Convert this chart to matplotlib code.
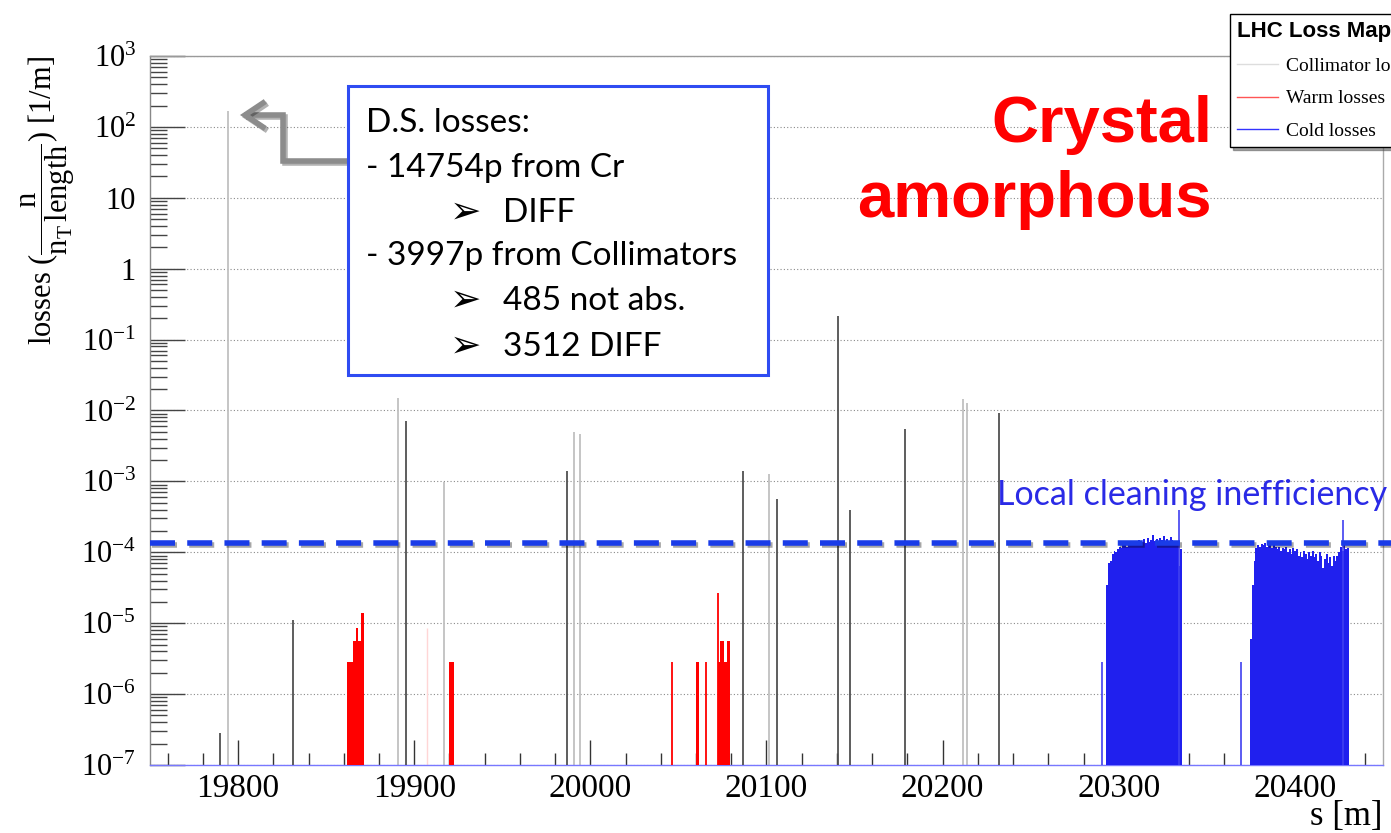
import numpy as np
import matplotlib.pyplot as plt
import matplotlib.patheffects as pe
from matplotlib.patches import Rectangle
from matplotlib.lines import Line2D
from matplotlib.ticker import FixedLocator, MultipleLocator, LogLocator, NullFormatter

plt.rcParams['mathtext.fontset'] = 'custom'
plt.rcParams['mathtext.rm'] = 'Liberation Serif'
plt.rcParams['mathtext.it'] = 'Liberation Serif:italic'
plt.rcParams['mathtext.bf'] = 'Liberation Serif:bold'

# ---------------------------------------------------------------
# datos
# ---------------------------------------------------------------
# perdidas en colimadores: lineas oscuras
coll_dark_s = [19790.0, 19831.2, 19895.4, 19986.8, 20086.7, 20106.0, 20140.7, 20147.5, 20178.7, 20232.1]
coll_dark_v = [2.8e-7, 1.1e-5, 7.2e-3, 1.4e-3, 1.4e-3, 5.6e-4, 0.215, 3.9e-4, 5.5e-3, 9.2e-3]
# perdidas en colimadores: lineas claras
coll_light_s = [19794.3, 19890.8, 19917.0, 19990.8, 19994.2, 20101.5, 20211.7, 20214.0]
coll_light_v = [170.0, 0.015, 9.8e-4, 5.0e-3, 4.6e-3, 1.27e-3, 0.0145, 0.0128]

# perdidas calientes (warm)
warm1_edges = [19862.0, 19863.2, 19864.3, 19865.4, 19866.7, 19867.9, 19868.9, 19869.8, 19870.8, 19871.7]
warm1_vals = [2.8e-6, 2.8e-6, 2.8e-6, 5.6e-6, 8.6e-6, 5.6e-6, 5.6e-6, 1.4e-5, 1.4e-5]
warm2_edges = [19919.9, 19921.2, 19922.5]
warm2_vals = [2.8e-6, 2.8e-6]
warm3_edges = [20060.0, 20061.4]
warm3_vals = [2.8e-6]
warm4_edges = [20072.4, 20073.7, 20075.6, 20077.8, 20079.0]
warm4_vals = [2.8e-6, 5.6e-6, 2.8e-6, 5.6e-6]
warm_line_s = [20046.4, 20065.7, 20072.6]
warm_line_v = [2.8e-6, 2.8e-6, 2.7e-5]
warm_faint_s = [19907.3]
warm_faint_v = [8.6e-6]

# perdidas frias (cold), bins de 1 m
cold1_start = 20293.0
cold1_vals = [3.5e-5, 7.0e-5, 7.5e-5, 9.5e-5, 1.05e-4, 1.0e-4, 1.1e-4, 1.2e-4, 1.15e-4, 1.25e-4,
              1.3e-4, 1.2e-4, 1.35e-4, 1.25e-4, 1.4e-4, 1.3e-4, 1.45e-4, 1.35e-4, 1.5e-4, 1.3e-4,
              1.4e-4, 1.55e-4, 1.35e-4, 1.6e-4, 1.4e-4, 1.5e-4, 1.75e-4, 1.45e-4, 1.55e-4, 1.4e-4,
              1.6e-4, 1.5e-4, 1.7e-4, 1.45e-4, 1.55e-4, 1.4e-4, 1.65e-4, 1.5e-4, 1.35e-4, 1.45e-4,
              1.3e-4, 6.5e-5, 1.1e-4]
cold2_start = 20374.6
cold2_vals = [6e-6, 3.5e-5, 7.5e-5, 1.15e-4, 1.25e-4, 1.2e-4, 1.3e-4, 1.25e-4, 1.35e-4, 1.2e-4,
              1.3e-4, 1.25e-4, 1.15e-4, 1.3e-4, 1.2e-4, 1.1e-4, 1.2e-4, 1.05e-4, 1.15e-4, 1.1e-4,
              1.2e-4, 1.0e-4, 1.1e-4, 9.5e-5, 1.15e-4, 1.05e-4, 1.1e-4, 9.0e-5, 1.0e-4, 8.5e-5,
              1.05e-4, 9.5e-5, 8.0e-5, 1.0e-4, 9.0e-5, 1.05e-4, 8.5e-5, 9.5e-5, 7.5e-5, 1.0e-4,
              9.0e-5, 6.0e-5, 8.0e-5, 9.5e-5, 7.0e-5, 8.5e-5, 6.5e-5, 9.0e-5, 7.5e-5, 9.0e-5,
              1.0e-4, 1.2e-4, 1.05e-4, 1.3e-4, 1.1e-4, 1.15e-4]
cold_line_s = [20290.6, 20334.3, 20369.5, 20427.5]
cold_line_v = [2.8e-6, 3.9e-4, 2.8e-6, 2.85e-4]

# ineficiencia local de limpieza
local_ineff = 1.35e-4

x_major = [19800, 19900, 20000, 20100, 20200, 20300, 20400]
y_ticks = [1e-7, 1e-6, 1e-5, 1e-4, 1e-3, 1e-2, 1e-1, 1, 10, 1e2, 1e3]
y_labels = [r'$10^{-7}$', r'$10^{-6}$', r'$10^{-5}$', r'$10^{-4}$', r'$10^{-3}$', r'$10^{-2}$',
            r'$10^{-1}$', '1', '10', r'$10^{2}$', r'$10^{3}$']

box_lines = ['D.S. losses:', '- 14754p from Cr', 'DIFF', '- 3997p from Collimators',
             '485 not abs.', '3512 DIFF']

# ---------------------------------------------------------------
# grafico
# ---------------------------------------------------------------
W, H = 1391, 833
fig = plt.figure(figsize=(W / 100, H / 100), dpi=100)
ax = fig.add_axes([150 / W, 1 - 765 / H, 1233 / W, 709 / H])
ax.set_yscale('log')
ax.set_xlim(19750, 20450)
ax.set_ylim(1e-7, 1e3)
base = 1e-7

# coordenadas de pixel -> fraccion de ejes (solo para anotaciones)
def px(x, y):
    return (x - 150) / 1233, (765 - y) / 709

ax.yaxis.grid(True, which='major', linestyle=(0, (1, 2)), color='#8a8a8a', lw=0.8)
ax.set_axisbelow(True)

ax.vlines(coll_light_s, base, coll_light_v, color='#c0c0c0', lw=1.3, zorder=2)
ax.vlines(coll_dark_s, base, coll_dark_v, color='#505050', lw=1.3, zorder=3)

blue = '#2020ee'
ax.stairs(cold1_vals, cold1_start + np.arange(len(cold1_vals) + 1), baseline=base, fill=True, color=blue, zorder=3)
ax.stairs(cold2_vals, cold2_start + np.arange(len(cold2_vals) + 1), baseline=base, fill=True, color=blue, zorder=3)
ax.vlines(cold_line_s, base, cold_line_v, color='#4040f0', lw=1.2, zorder=3)

red = '#ff0000'
ax.vlines(warm_faint_s, base, warm_faint_v, color='#ffd6d6', lw=1.0, zorder=2)
for ed, vv in [(warm1_edges, warm1_vals), (warm2_edges, warm2_vals),
               (warm3_edges, warm3_vals), (warm4_edges, warm4_vals)]:
    ax.stairs(vv, ed, baseline=base, fill=True, color=red, zorder=4)
ax.vlines(warm_line_s, base, warm_line_v, color=red, lw=1.3, zorder=4)

# linea de ineficiencia local
ax.plot([0, 1.01], [local_ineff, local_ineff], transform=ax.get_yaxis_transform(),
        color='#1a3ce8', lw=4, dashes=(4.5, 2.2), clip_on=False, zorder=6,
        path_effects=[pe.SimpleLineShadow(offset=(1.5, -1.5), alpha=0.35), pe.Normal()])
ax.text(*px(997, 505), 'Local cleaning inefficiency', transform=ax.transAxes,
        color='#2a2ae6', fontsize=24.5, family='Lato', va='baseline', ha='left', zorder=7)

# ejes
ax.set_xticks(x_major)
ax.set_xticklabels([str(v) for v in x_major])
ax.xaxis.set_minor_locator(MultipleLocator(20))
ax.yaxis.set_major_locator(FixedLocator(y_ticks))
ax.set_yticklabels(y_labels)
ax.yaxis.set_minor_locator(LogLocator(base=10, subs=np.arange(2, 10), numticks=20))
ax.yaxis.set_minor_formatter(NullFormatter())

ax.tick_params(axis='x', which='major', direction='in', length=18, width=1, color='#333333',
               labelsize=24, pad=6)
ax.tick_params(axis='x', which='minor', direction='in', length=8.5, width=1, color='#333333')
ax.tick_params(axis='y', which='major', direction='in', length=25, width=1, color='#444444',
               labelsize=22, pad=10)
ax.tick_params(axis='y', which='minor', direction='in', length=12, width=1, color='#444444')
for lab in ax.get_xticklabels() + ax.get_yticklabels():
    lab.set_family('Liberation Serif')

ax.spines['top'].set_color('#9a9a9a')
ax.spines['right'].set_color('#aaaaaa')
ax.spines['left'].set_color('#888888')
ax.spines['bottom'].set_color('#7878ff')
for sp in ax.spines.values():
    sp.set_linewidth(1)

ax.set_ylabel(r'losses $(\dfrac{\mathrm{n}}{\mathrm{n}_{\mathrm{T}}\,\mathrm{length}})$ [1/m]',
              loc='top', fontsize=22, family='Liberation Serif', labelpad=3)
ax.set_xlabel('s [m]', loc='right', fontsize=25, family='Liberation Serif', labelpad=-3)

# caja de texto
x0, y0 = px(348, 375)
x1, y1 = px(768, 86)
ax.add_patch(Rectangle((x0, y0), x1 - x0, y1 - y0, transform=ax.transAxes, facecolor='white',
                       edgecolor='#2f4cf2', lw=2.2, clip_on=False, zorder=8))
baselines = [132, 177, 222, 265, 310, 356]
indent = [False, False, True, False, True, True]
for txt, yb, ind in zip(box_lines, baselines, indent):
    if ind:
        ax.text(*px(450, yb + 1), '\u27a2', transform=ax.transAxes, fontsize=27,
                family='DejaVu Sans', va='baseline', zorder=9)
        ax.text(*px(503, yb), txt, transform=ax.transAxes, fontsize=24,
                family='Lato', va='baseline', zorder=9)
    else:
        ax.text(*px(366, yb), txt, transform=ax.transAxes, fontsize=24,
                family='Lato', va='baseline', zorder=9)

# flecha gris
arrow_fx = [px(348, 161), px(283, 161), px(283, 115), px(247, 115)]
head_fx = [px(263, 103), px(245, 115), px(263, 127)]
shadow = [pe.SimpleLineShadow(offset=(1.5, -1.5), alpha=0.3), pe.Normal()]
ax.plot([p[0] for p in arrow_fx], [p[1] for p in arrow_fx], transform=ax.transAxes,
        color='#8c8c8c', lw=4, solid_joinstyle='miter', clip_on=False, zorder=7,
        path_effects=shadow)
ax.plot([p[0] for p in head_fx], [p[1] for p in head_fx], transform=ax.transAxes,
        color='#8c8c8c', lw=4, solid_joinstyle='miter', clip_on=False, zorder=7,
        path_effects=shadow)

# texto rojo
ax.text(*px(1212, 142), 'Crystal', transform=ax.transAxes, color='#ff0000', fontsize=47,
        family='Liberation Sans', weight='bold', ha='right', va='baseline', zorder=9)
ax.text(*px(1212, 217), 'amorphous', transform=ax.transAxes, color='#ff0000', fontsize=47,
        family='Liberation Sans', weight='bold', ha='right', va='baseline', zorder=9)

# leyenda
handles = [Line2D([], [], color='#dddddd', lw=1),
           Line2D([], [], color='#ff5555', lw=1),
           Line2D([], [], color='#3333ff', lw=1)]
leg = fig.legend(handles, ['Collimator losses', 'Warm losses', 'Cold losses'],
                 loc='upper left', bbox_to_anchor=(1230 / W, 1 - 14 / H), borderaxespad=0,
                 title='LHC Loss Map', alignment='left', frameon=True, fancybox=False,
                 shadow=True, edgecolor='black', framealpha=1,
                 prop={'family': 'Liberation Serif', 'size': 14},
                 title_fontproperties={'family': 'Liberation Sans', 'weight': 'bold', 'size': 16},
                 handlelength=2.1, handletextpad=0.45, labelspacing=0.78, borderpad=0.35)
leg.get_frame().set_linewidth(1)

fig.savefig('out.png', dpi=100)
